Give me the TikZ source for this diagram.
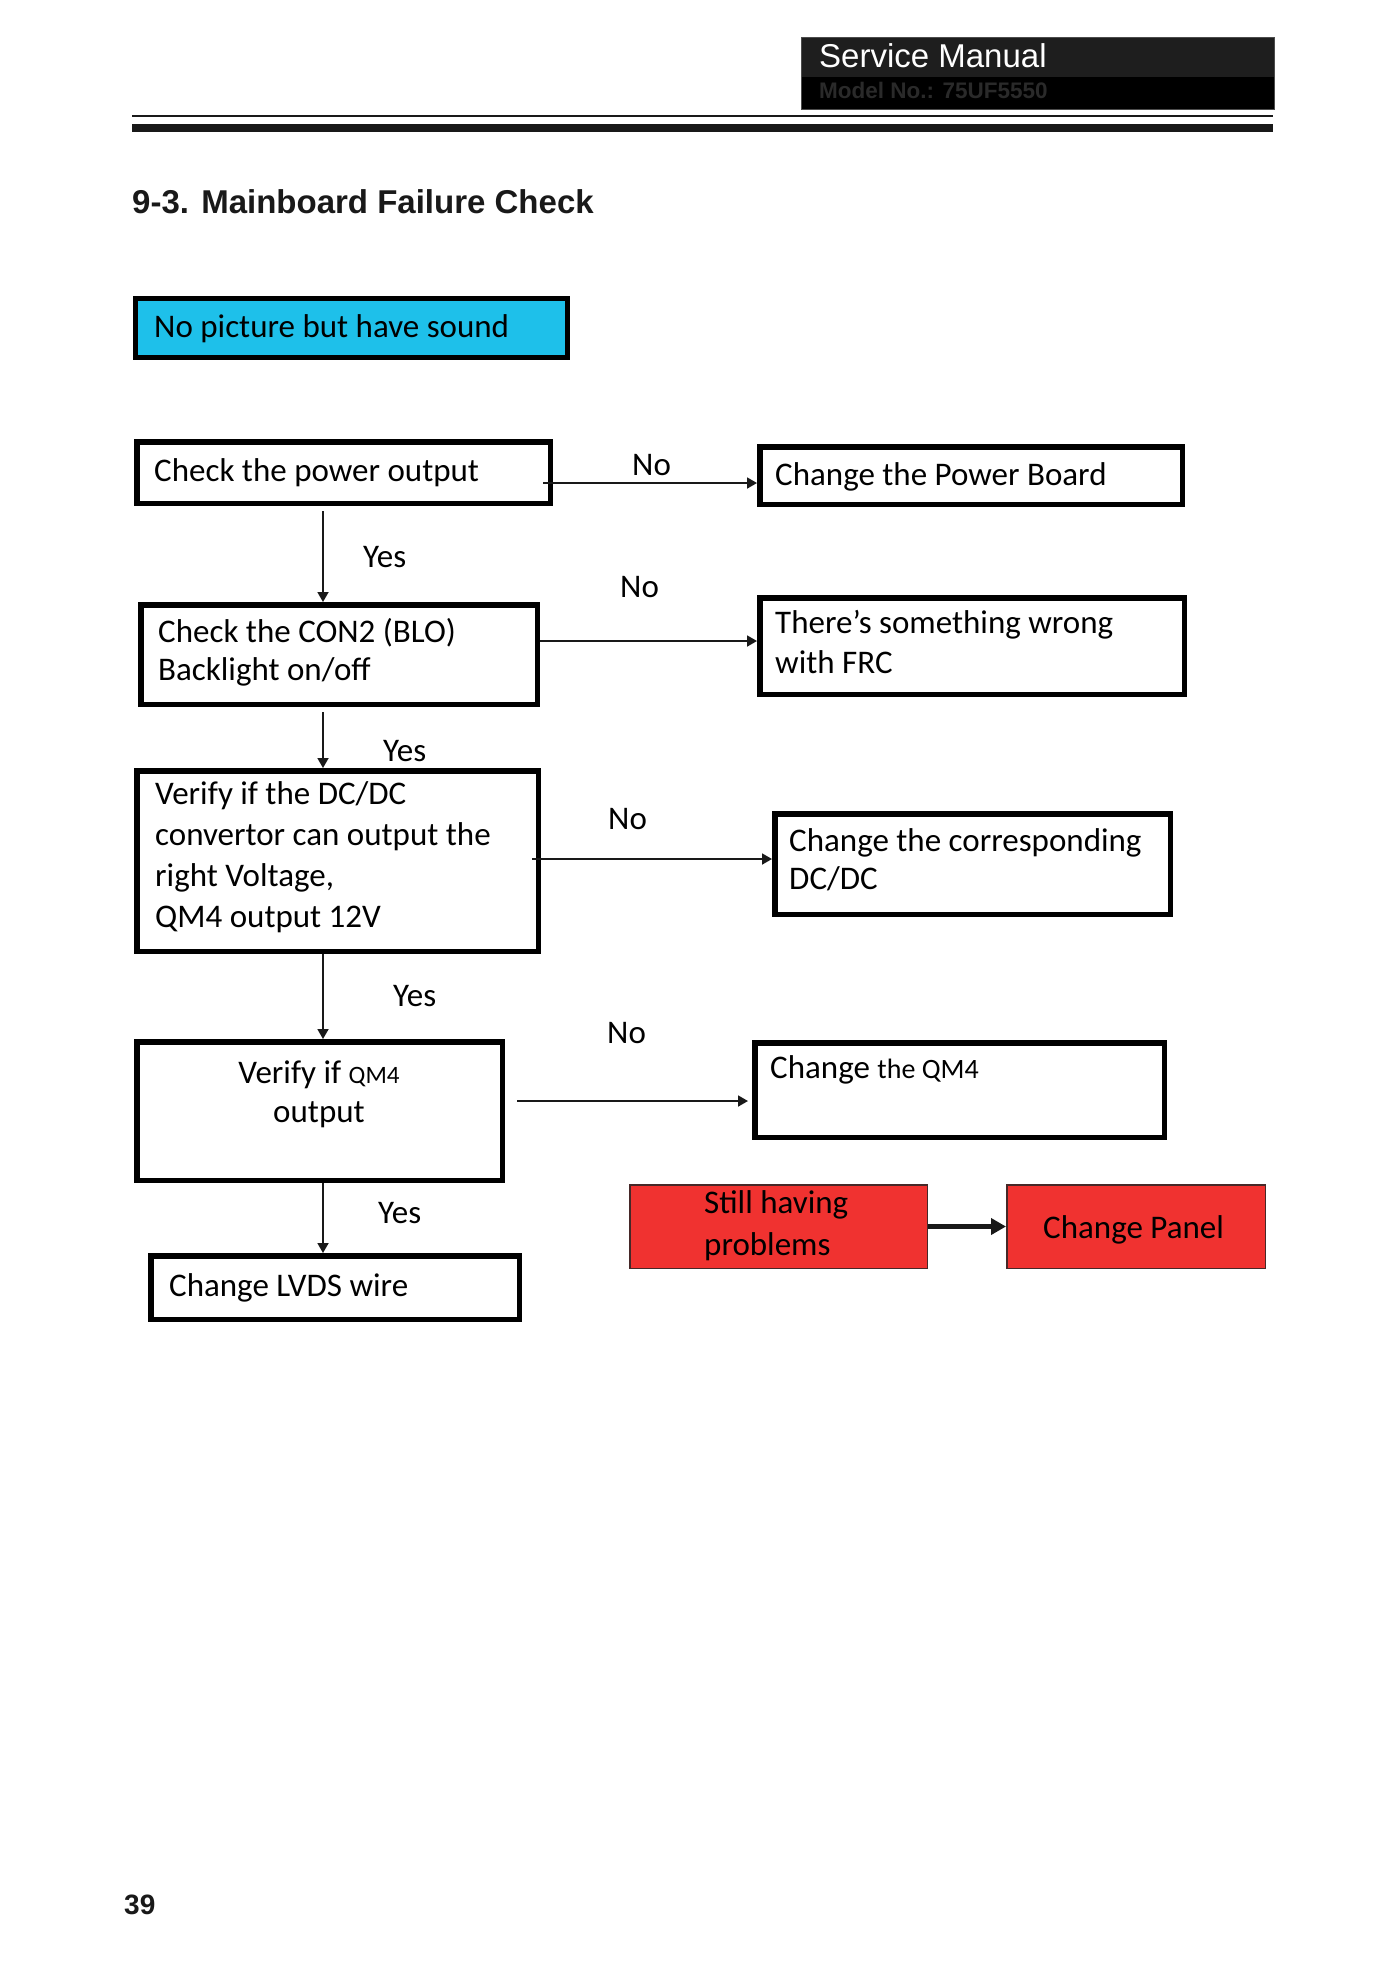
\documentclass[tikz,border=0pt]{standalone}
\usepackage{fontspec}
\setmainfont{Carlito}
\newfontfamily\arialf{Liberation Sans}
\usetikzlibrary{arrows.meta}
\definecolor{boxblue}{RGB}{30,192,234}
\definecolor{boxred}{RGB}{240,50,48}
\definecolor{hdrgray}{RGB}{30,30,30}
\definecolor{modelgray}{RGB}{42,42,42}
\definecolor{redline}{RGB}{70,40,40}
\begin{document}
\begin{tikzpicture}[x=1pt,y=-1pt,
  flow/.style={draw=black, line width=5.5pt, rectangle, inner sep=0pt, fill=white},
  bluebox/.style={draw=black, line width=5pt, rectangle, inner sep=0pt, fill=boxblue},
  redbox/.style={draw=redline, line width=1.5pt, rectangle, inner sep=0pt, fill=boxred},
  txt/.style={anchor=base west, inner sep=0pt, align=left, font=\fontsize{33}{40}\selectfont},
  lbl/.style={anchor=base west, inner sep=0pt, font=\fontsize{33}{40}\selectfont},
  arr/.style={-{Triangle[length=10pt,width=11pt]}, line width=1.8pt, draw=black!90},
  thickarr/.style={-{Triangle[length=15pt,width=16pt]}, line width=5pt, draw=black!90}
]
\useasboundingbox (0,0) rectangle (1400,1982);
\fill[white] (0,0) rectangle (1400,1982);

% header
\fill[hdrgray] (801,37) rectangle (1274,77);
\fill[black] (801,77) rectangle (1274,109);
\draw[black!70, line width=1pt] (801,37) rectangle (1274,109);
\node[anchor=base west, inner sep=0pt, text=white, font=\arialf\fontsize{33}{38}\selectfont] (hdr) at (819,67) {Service Manual};
\node[anchor=base west, inner sep=0pt, text=modelgray, font=\arialf\bfseries\fontsize{22.5}{27}\selectfont] (model) at (819,98) {Model No.: 75UF5550};
\draw[line width=2pt, black!90] (132,116) -- (1273,116);
\fill[black!90] (132,124) rectangle (1273,132);

% title
\node[anchor=base west, inner sep=0pt, text=black!90, font=\arialf\bfseries\fontsize{33}{38}\selectfont] (title) at (132,213) {9-3. Mainboard Failure Check};

% boxes
\node[bluebox, minimum width=432pt, minimum height=59pt] (B0) at (351.5,328) {};
\node[flow, minimum width=413.5pt, minimum height=61.5pt] (B1) at (343.5,472.5) {};
\node[flow, minimum width=422.5pt, minimum height=57.5pt] (B2) at (971,475.5) {};
\node[flow, minimum width=396.5pt, minimum height=99.5pt] (B3) at (339,654.5) {};
\node[flow, minimum width=424.5pt, minimum height=96.5pt] (B4) at (972,646) {};
\node[flow, minimum width=401.5pt, minimum height=180.5pt] (B5) at (337.5,861) {};
\node[flow, minimum width=395.5pt, minimum height=100.5pt] (B6) at (972.5,864) {};
\node[flow, minimum width=365.5pt, minimum height=138.5pt] (B7) at (319.5,1111) {};
\node[flow, minimum width=409.5pt, minimum height=94.5pt] (B8) at (959.5,1090) {};
\node[flow, minimum width=368.5pt, minimum height=63.5pt] (B9) at (335,1287.5) {};
\node[redbox, minimum width=297.5pt, minimum height=83.5pt] (R1) at (778.5,1226.5) {};
\node[redbox, minimum width=258.5pt, minimum height=83.5pt] (R2) at (1136,1226.5) {};

% texts in boxes (multi-line nodes: base = last line)
\node[txt] (t0) at (154,337) {No picture but have sound};
\node[txt] (t1) at (154,481) {Check the power output};
\node[txt] (t2) at (775,485) {Change the Power Board};
\node[txt, font=\fontsize{33}{38.5}\selectfont] (t3) at (158,680.5) {Check the CON2 (BLO)\\Backlight on/off};
\node[txt] (t4) at (775,673) {There’s something wrong\\with FRC};
\node[txt, font=\fontsize{33}{40.7}\selectfont] (t5) at (155,927) {Verify if the DC/DC\\convertor can output the\\right Voltage,\\QM4 output 12V};
\node[txt, font=\fontsize{33}{38}\selectfont] (t6) at (789,889) {Change the corresponding\\DC/DC};
\node[anchor=base, inner sep=0pt, align=center, font=\fontsize{33}{39}\selectfont] (t7) at (319,1122) {Verify if {\fontsize{25}{30}\selectfont QM4}\\output};
\node[txt] (t8) at (770,1078) {Change {\fontsize{28}{33}\selectfont the QM4}};
\node[txt] (t9) at (169,1296) {Change LVDS wire};
\node[txt, font=\fontsize{33}{42}\selectfont] (tr1) at (704,1255) {Still having\\problems};
\node[txt] (tr2) at (1043,1238) {Change Panel};

% labels
\node[lbl] (no1) at (632,475) {No};
\node[lbl] (no2) at (620,597) {No};
\node[lbl] (no3) at (608,829) {No};
\node[lbl] (no4) at (607,1043) {No};
\node[lbl] (yes1) at (363,567) {Yes};
\node[lbl] (yes2) at (383,761) {Yes};
\node[lbl] (yes3) at (393,1006) {Yes};
\node[lbl] (yes4) at (378,1223) {Yes};

% page number
\node[anchor=base west, inner sep=0pt, text=black!90, font=\arialf\bfseries\fontsize{28}{32}\selectfont] (page) at (124,1914) {39};

% connectors
\coordinate (vx) at (323,0);
\coordinate (a1) at (543,483);
\coordinate (a2) at (540,641);
\coordinate (a3) at (532,859);
\coordinate (a4) at (517,1101);
\draw[arr] (a1) -- (a1 -| B2.west);
\draw[arr] (a2 -| B3.east) -- (a2 -| B4.west);
\draw[arr] (a3) -- (a3 -| B6.west);
\draw[arr] (a4) -- ([xshift=-4pt]a4 -| B8.west);
\draw[arr] ([yshift=-5pt]B1.south -| vx) -- (B3.north -| vx);
\draw[arr] ([yshift=-5pt]B3.south -| vx) -- (B5.north -| vx);
\draw[arr] (B5.south -| vx) -- (B7.north -| vx);
\draw[arr] (B7.south -| vx) -- (B9.north -| vx);
\draw[thickarr] (R1.east) -- (R2.west);
\end{tikzpicture}
\end{document}
